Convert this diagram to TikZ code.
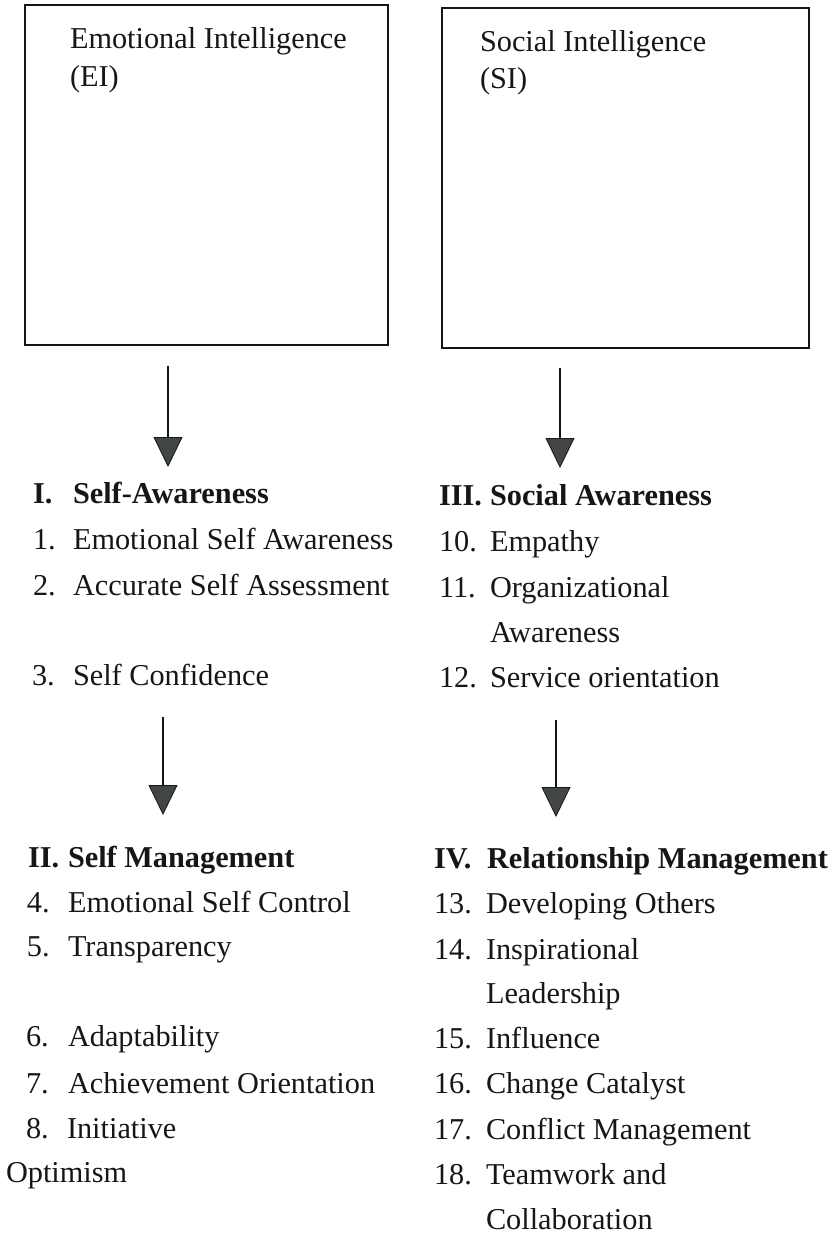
\documentclass[tikz,border=0pt]{standalone}
\usepackage{fontspec}
\setmainfont{Liberation Serif}
\usetikzlibrary{arrows.meta}
\definecolor{headgray}{RGB}{66,70,70}
\definecolor{inkblack}{RGB}{22,22,22}
\begin{document}
\begin{tikzpicture}[x=1pt,y=-1pt,
  txt/.style={anchor=base west,inner sep=0pt,outer sep=0pt,text=inkblack,
              font=\fontsize{30.3}{36}\selectfont},
  hd/.style={txt,font=\fontsize{30.3}{36}\selectfont\bfseries},
  box/.style={draw=inkblack,line width=2pt,rectangle,inner sep=0pt},
  flow/.style={draw=inkblack,line width=2pt,
    -{Triangle[length=30pt,width=29pt,fill=headgray,line width=0.8pt]}}]
\useasboundingbox (0,0) rectangle (837,1236);

% the two intelligence boxes
\node[box,minimum width=363pt,minimum height=340pt] (eibox) at (206.5,175) {};
\node[box,minimum width=367pt,minimum height=340pt] (sibox) at (625.5,178) {};
\node[txt] (eit1) at (70,49) {Emotional Intelligence};
\node[txt] (eit2) at (70,87) {(EI)};
\node[txt] (sit1) at (480,52) {Social Intelligence};
\node[txt] (sit2) at (480,89) {(SI)};

% arrows between the levels
\coordinate (a1s) at (168,366); \coordinate (a1e) at (168,467);
\coordinate (a2s) at (560,368); \coordinate (a2e) at (560,468);
\coordinate (a3s) at (163,717); \coordinate (a3e) at (163,815);
\coordinate (a4s) at (556,720); \coordinate (a4e) at (556,817);
\draw[flow] (a1s) -- (a1e);
\draw[flow] (a2s) -- (a2e);
\draw[flow] (a3s) -- (a3e);
\draw[flow] (a4s) -- (a4e);

% I. Self-Awareness
\node[hd]  (h1n) at (33,503) {I.};
\node[hd]  (h1)  at (73,503) {Self-Awareness};
\node[txt] (n1)  at (33,549) {1.};
\node[txt] (t1)  at (73,549) {Emotional Self Awareness};
\node[txt] (n2)  at (33,595) {2.};
\node[txt] (t2)  at (73,595) {Accurate Self Assessment};
\node[txt] (n3)  at (32,685) {3.};
\node[txt] (t3)  at (73,685) {Self Confidence};

% III. Social Awareness
\node[hd]  (h3n) at (439,505) {III.};
\node[hd]  (h3)  at (490,505) {Social Awareness};
\node[txt] (n10) at (439,551) {10.};
\node[txt] (t10) at (490,551) {Empathy};
\node[txt] (n11) at (439,597) {11.};
\node[txt] (t11) at (490,597) {Organizational};
\node[txt] (t11b) at (490,642) {Awareness};
\node[txt] (n12) at (439,687) {12.};
\node[txt] (t12) at (490,687) {Service orientation};

% II. Self Management
\node[hd]  (h2n) at (28,867) {II.};
\node[hd]  (h2)  at (68,867) {Self Management};
\node[txt] (n4)  at (27,912) {4.};
\node[txt] (t4)  at (68,912) {Emotional Self Control};
\node[txt] (n5)  at (27,956) {5.};
\node[txt] (t5)  at (68,956) {Transparency};
\node[txt] (n6)  at (26,1046) {6.};
\node[txt] (t6)  at (68,1046) {Adaptability};
\node[txt] (n7)  at (26,1093) {7.};
\node[txt] (t7)  at (68,1093) {Achievement Orientation};
\node[txt] (n8)  at (26,1138) {8.};
\node[txt] (t8)  at (67,1138) {Initiative};
\node[txt] (t9)  at (6,1182) {Optimism};

% IV. Relationship Management
\node[hd]  (h4n) at (434,868) {IV.};
\node[hd]  (h4)  at (487,868) {Relationship Management};
\node[txt] (n13) at (434,913) {13.};
\node[txt] (t13) at (486,913) {Developing Others};
\node[txt] (n14) at (434,959) {14.};
\node[txt] (t14) at (486,959) {Inspirational};
\node[txt] (t14b) at (486,1003) {Leadership};
\node[txt] (n15) at (434,1048) {15.};
\node[txt] (t15) at (486,1048) {Influence};
\node[txt] (n16) at (434,1093) {16.};
\node[txt] (t16) at (486,1093) {Change Catalyst};
\node[txt] (n17) at (434,1139) {17.};
\node[txt] (t17) at (486,1139) {Conflict Management};
\node[txt] (n18) at (434,1184) {18.};
\node[txt] (t18) at (486,1184) {Teamwork and};
\node[txt] (t18b) at (486,1229) {Collaboration};
\end{tikzpicture}
\end{document}
